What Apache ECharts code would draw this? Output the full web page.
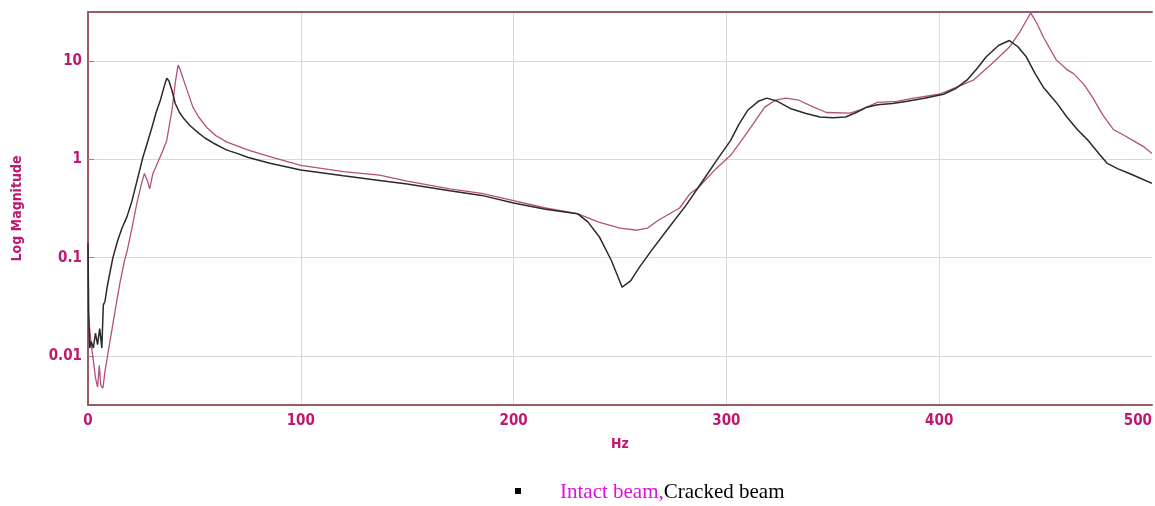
<!DOCTYPE html>
<html>
<head>
<meta charset="utf-8">
<script src="https://cdn.jsdelivr.net/npm/echarts@6/dist/echarts.min.js"></script>
<style>
html,body{margin:0;padding:0;background:#fff;}
#chart{width:1155px;height:506px;}
</style>
</head>
<body>
<div id="chart"></div>
<script>
// Frequency (Hz) and log magnitude values
const xTicks = [0, 100, 200, 300, 400, 500];
const yTicks = [0.01, 0.1, 1, 10];

const intactHz = [0, 0.5, 1.5, 2.5, 3.5, 4.5, 5.3, 6, 7, 8, 10.3, 13.5, 15, 17, 18.5, 20, 23, 25, 26.5, 28, 29, 30.5, 32, 35, 37, 39.5, 41, 42.3, 43.2, 46.5, 49.3, 52, 55.9, 60, 65.3, 75, 85, 100, 120, 137, 150, 170, 185, 200, 215, 230, 240, 250, 258, 263, 268, 278, 283, 287, 295, 302, 310, 318, 323, 328, 334, 341, 347, 358, 363, 371, 380, 388, 400, 408, 416, 425, 433, 438, 443, 446, 449, 455, 460, 463, 468, 472, 477, 482, 486, 491, 496, 500];
const intactMag = [0.03, 0.022, 0.013, 0.009, 0.006, 0.0048, 0.008, 0.005, 0.0047, 0.007, 0.014, 0.036, 0.055, 0.09, 0.12, 0.17, 0.36, 0.55, 0.72, 0.6, 0.5, 0.72, 0.85, 1.2, 1.56, 3.2, 6, 9.1, 8.3, 5.1, 3.4, 2.7, 2.1, 1.75, 1.5, 1.25, 1.07, 0.87, 0.75, 0.69, 0.6, 0.5, 0.45, 0.38, 0.32, 0.28, 0.23, 0.2, 0.19, 0.2, 0.24, 0.32, 0.45, 0.52, 0.8, 1.1, 1.9, 3.4, 4.0, 4.2, 4.0, 3.4, 3.0, 2.95, 3.2, 3.8, 3.9, 4.2, 4.6, 5.4, 6.4, 9.5, 13.9, 20, 31, 24, 17.5, 10.3, 8.2, 7.5, 5.8, 4.3, 2.8, 2.0, 1.8, 1.56, 1.35, 1.15];

const crackedHz = [0, 0.3, 0.8, 1.5, 2.5, 3.5, 4.5, 5.5, 6.5, 7.2, 8, 9, 10, 11.7, 14, 16, 18.3, 20.7, 23, 25.8, 28, 30, 32, 34, 36, 37, 38, 39.5, 41, 43, 45, 48, 52, 55, 59, 65, 70, 75, 85, 100, 120, 137, 150, 170, 185, 200, 215, 230, 235, 240.5, 246, 251, 255, 259, 265, 272, 281, 289, 295, 302, 306, 310, 315, 319, 324, 330, 337, 344, 350, 356, 361, 366, 371, 378, 385, 393, 402, 408, 413, 418, 422, 428, 433, 437, 441, 445, 449, 455, 460, 465, 470, 475, 479, 484, 488, 494, 500];
const crackedMag = [0.14, 0.03, 0.012, 0.014, 0.012, 0.017, 0.013, 0.019, 0.012, 0.033, 0.036, 0.05, 0.065, 0.1, 0.15, 0.2, 0.26, 0.38, 0.6, 1.05, 1.5, 2.1, 3.0, 4.0, 5.7, 6.7, 6.3, 5.0, 3.7, 3.0, 2.6, 2.2, 1.85, 1.65, 1.46, 1.25, 1.15, 1.05, 0.92, 0.78, 0.68, 0.61, 0.56, 0.48, 0.43, 0.36, 0.31, 0.28, 0.23, 0.16, 0.093, 0.05, 0.058, 0.079, 0.12, 0.19, 0.34, 0.61, 0.95, 1.56, 2.3, 3.16, 3.9, 4.2, 3.9, 3.3, 2.95, 2.7, 2.65, 2.7, 3.0, 3.4, 3.6, 3.7, 3.9, 4.2, 4.6, 5.3, 6.4, 8.5, 11, 14.5, 16.2, 14, 11, 7.5, 5.4, 3.8, 2.7, 2.0, 1.56, 1.15, 0.91, 0.8, 0.74, 0.65, 0.57];

const legendIntact = 'Intact beam,';
const legendCracked = 'Cracked beam';

const pair = (xs, ys) => xs.map((x, i) => [x, ys[i]]);

const labelColor = '#c0186f';
const axisColor = '#9b5b63';
const labelFont = "'Liberation Sans Narrow','DejaVu Sans Condensed','Liberation Sans',sans-serif";

const chart = echarts.init(document.getElementById('chart'), null, {renderer: 'canvas'});
chart.setOption({
  backgroundColor: '#fff',
  animation: false,
  grid: {left: 88, right: 3, top: 12, bottom: 101, containLabel: false, outerBoundsMode: 'none'},
  xAxis: [{
    type: 'value', min: xTicks[0], max: xTicks[xTicks.length - 1], interval: 100,
    name: 'Hz', nameLocation: 'middle', nameGap: 32,
    nameTextStyle: {color: labelColor, fontWeight: 'bold', fontSize: 14, fontFamily: labelFont},
    axisLine: {show: true, lineStyle: {color: axisColor, width: 2}},
    axisTick: {show: false},
    axisLabel: {color: labelColor, fontWeight: 'bold', fontSize: 15, fontFamily: labelFont, margin: 9, alignMaxLabel: 'right'},
    splitLine: {show: true, showMaxLine: false, lineStyle: {color: '#d9d9d9', width: 1}}
  }, {
    type: 'value', position: 'top', min: 0, max: 500,
    axisLine: {show: true, lineStyle: {color: axisColor, width: 2}},
    axisTick: {show: false}, axisLabel: {show: false}, splitLine: {show: false}
  }],
  yAxis: {
    type: 'log', logBase: 10, min: Math.pow(10, -2.5), max: Math.pow(10, 1.5),
    name: 'Log Magnitude', nameLocation: 'middle', nameGap: 64,
    nameTextStyle: {color: labelColor, fontWeight: 'bold', fontSize: 14, fontFamily: labelFont},
    axisLine: {show: true, lineStyle: {color: axisColor, width: 2}},
    axisTick: {show: true, inside: true, length: 6, lineStyle: {color: '#888'}},
    axisLabel: {
      color: labelColor, fontWeight: 'bold', fontSize: 15, fontFamily: labelFont, margin: 6,
      showMinLabel: false, showMaxLabel: false,
      formatter: function (v) {
        const l = Math.log10(v);
        if (Math.abs(l - Math.round(l)) > 1e-6) return '';
        const p = Math.pow(10, Math.round(l));
        const t = yTicks.find(y => Math.abs(y - p) / p < 1e-6);
        return t === undefined ? '' : String(t);
      }
    },
    splitLine: {show: true, lineStyle: {color: '#d9d9d9', width: 1}}
  },
  series: [{
    name: 'Intact beam', type: 'line', showSymbol: false, symbol: 'none',
    data: pair(intactHz, intactMag),
    lineStyle: {color: '#b4507e', width: 1.3}
  }, {
    name: 'Cracked beam', type: 'line', showSymbol: false, symbol: 'none',
    data: pair(crackedHz, crackedMag),
    lineStyle: {color: '#2a2a2a', width: 1.5}
  }],
  graphic: [{
    type: 'rect', left: 515, top: 488, shape: {width: 6, height: 6},
    style: {fill: '#000'}
  }, {
    type: 'text', left: 560, top: 482,
    style: {
      text: '{a|' + legendIntact + '}{b|' + legendCracked + '}',
      rich: {
        a: {fill: '#e010d8', fontSize: 21, fontFamily: "'Liberation Serif','Times New Roman',serif"},
        b: {fill: '#000', fontSize: 21, fontFamily: "'Liberation Serif','Times New Roman',serif"}
      }
    }
  }]
});
</script>
</body>
</html>
